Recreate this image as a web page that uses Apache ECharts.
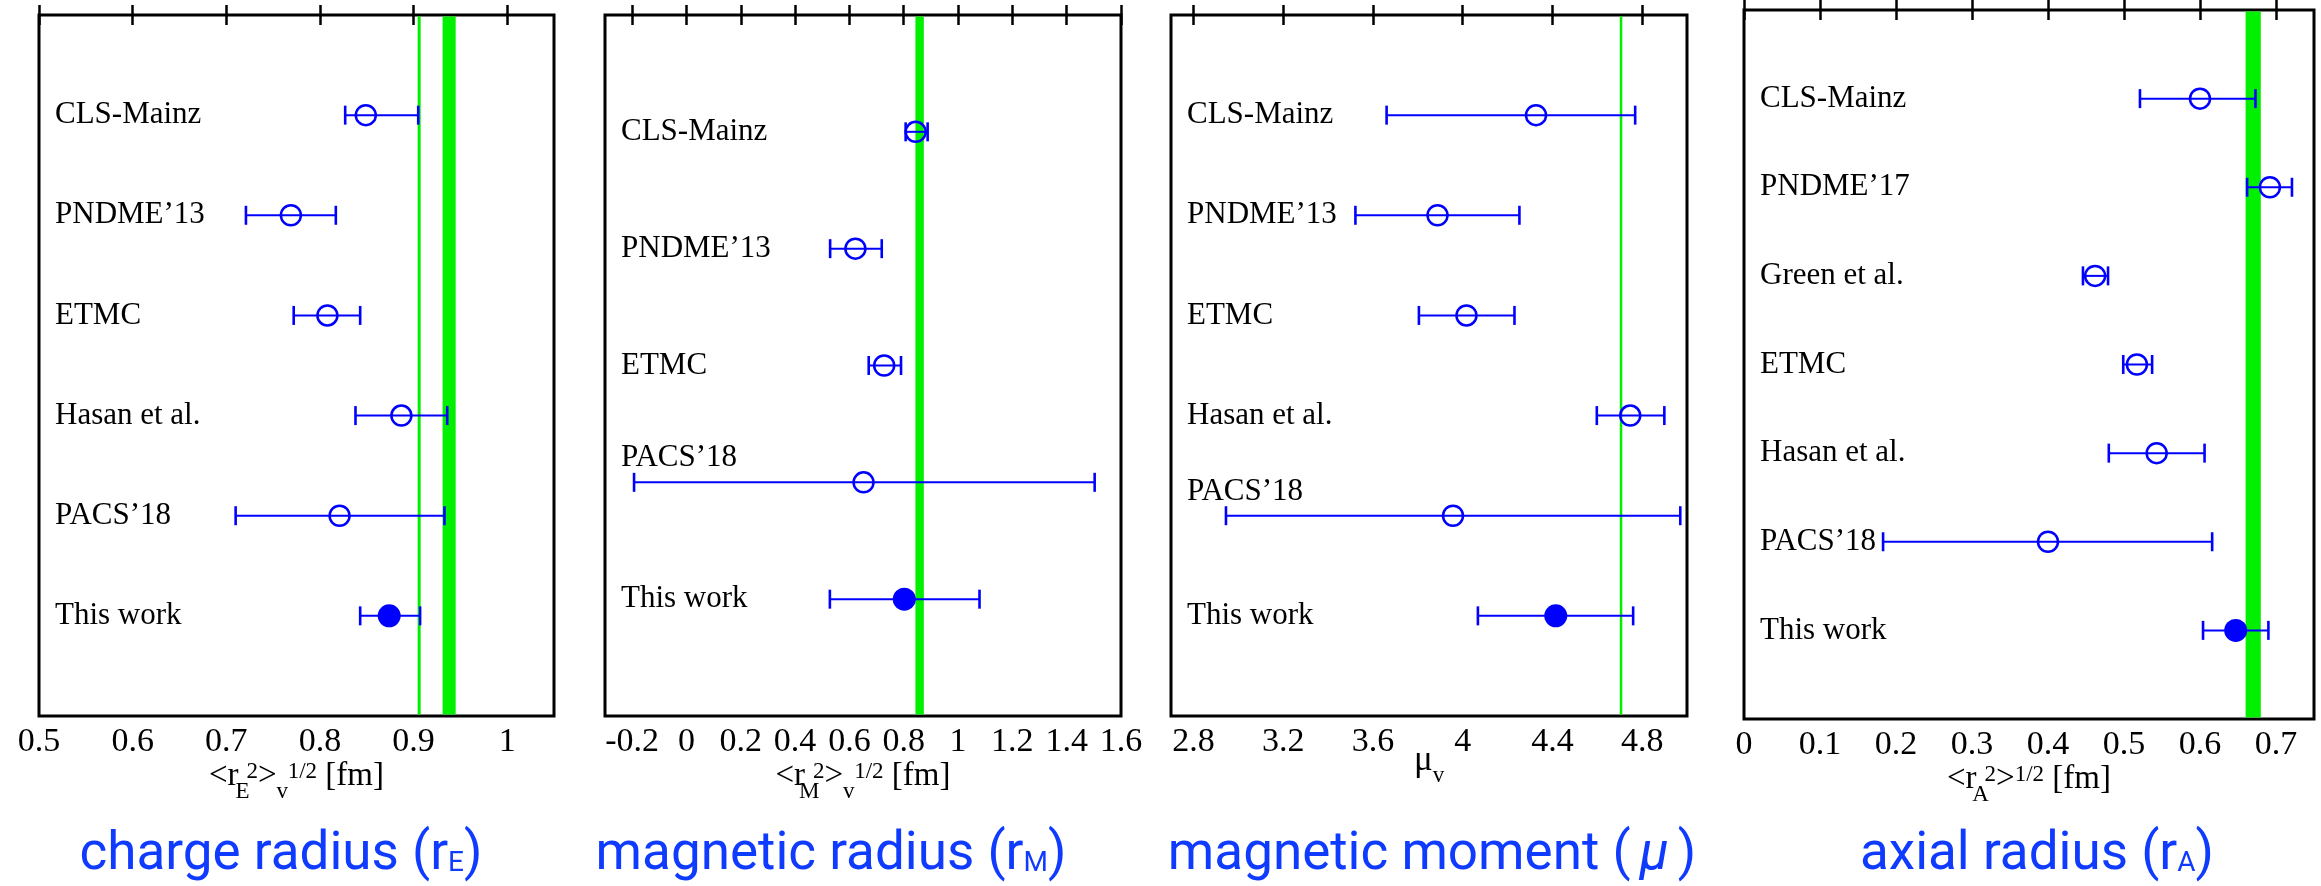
<!DOCTYPE html>
<html>
<head>
<meta charset="utf-8">
<script src="https://cdn.jsdelivr.net/npm/echarts@6/dist/echarts.min.js"></script>
<style>
  html, body { margin: 0; padding: 0; background: #ffffff; }
  #chart { width: 2321px; height: 886px; }
</style>
</head>
<body>
<div id="chart"></div>
<script>
// ---------- isovector charge radius <r_E^2>^{1/2} [fm] ----------
const chargeNames = ['CLS-Mainz', 'PNDME\u201913', 'ETMC', 'Hasan et al.', 'PACS\u201918', 'This work'];
const chargeVal   = [0.849, 0.769, 0.808, 0.887, 0.821, 0.874];
const chargeLo    = [0.827, 0.721, 0.772, 0.838, 0.710, 0.843];
const chargeHi    = [0.905, 0.817, 0.843, 0.936, 0.933, 0.907];
const chargeTicks = [0.5, 0.6, 0.7, 0.8, 0.9, 1];
const chargeRange = [0.5, 1.05];
const chargeRefLine = [0.906];
const chargeRefBand = [0.931, 0.945];

// ---------- isovector magnetic radius <r_M^2>^{1/2} [fm] ----------
const magNames = ['CLS-Mainz', 'PNDME\u201913', 'ETMC', 'PACS\u201918', 'This work'];
const magVal   = [0.844, 0.622, 0.728, 0.652, 0.802];
const magLo    = [0.807, 0.529, 0.671, -0.193, 0.528];
const magHi    = [0.888, 0.719, 0.790, 1.503, 1.079];
const magTicks = [-0.2, 0, 0.2, 0.4, 0.6, 0.8, 1, 1.2, 1.4, 1.6];
const magRange = [-0.3, 1.6];
const magRefBand = [0.843, 0.874];

// ---------- isovector magnetic moment mu_v ----------
const momNames = ['CLS-Mainz', 'PNDME\u201913', 'ETMC', 'Hasan et al.', 'PACS\u201918', 'This work'];
const momVal   = [4.327, 3.888, 4.017, 4.747, 3.957, 4.415];
const momLo    = [3.661, 3.522, 3.805, 4.598, 2.945, 4.068];
const momHi    = [4.769, 4.253, 4.231, 4.899, 4.970, 4.760];
const momTicks = [2.8, 3.2, 3.6, 4, 4.4, 4.8];
const momRange = [2.7, 5.0];
const momRefLine = [4.706];

// ---------- axial radius <r_A^2>^{1/2} [fm] ----------
const axNames = ['CLS-Mainz', 'PNDME\u201917', 'Green et al.', 'ETMC', 'Hasan et al.', 'PACS\u201918', 'This work'];
const axVal   = [0.600, 0.692, 0.462, 0.517, 0.543, 0.400, 0.647];
const axLo    = [0.521, 0.662, 0.446, 0.499, 0.480, 0.183, 0.604];
const axHi    = [0.673, 0.721, 0.479, 0.537, 0.606, 0.616, 0.690];
const axTicks = [0, 0.1, 0.2, 0.3, 0.4, 0.5, 0.6, 0.7];
const axRange = [0, 0.75];
const axRefBand = [0.66, 0.68];

// ---------- styling ----------
const SERIF = '"Liberation Serif", "Times New Roman", serif';
const SANS = 'Roboto, "Noto Sans", sans-serif';
const MARK_BLUE = '#0000ff';
const TITLE_BLUE = '#0f3bff';
const REF_GREEN = '#00f000';
const OWN_RESULT = 'This work';

// rich styles for the axis names (sub- and superscripts)
const axisNameRich = {
  m:   { fontFamily: SERIF, fontSize: 33, color: '#000' },
  sb:  { fontFamily: SERIF, fontSize: 23, color: '#000', padding: [30, 0, 0, 0], width: 8 },
  sbv: { fontFamily: SERIF, fontSize: 23, color: '#000', padding: [30, 0, 0, 0], width: 11 },
  sp:  { fontFamily: SERIF, fontSize: 23, color: '#000', padding: [0, 0, 10, 0] },
  mu:  { fontFamily: SERIF, fontSize: 35, color: '#000' }
};
const titleRich = {
  m:  { fontFamily: SANS, fontSize: 53, fontWeight: 'normal', color: TITLE_BLUE },
  s:  { fontFamily: SANS, fontSize: 28, fontWeight: 'normal', color: TITLE_BLUE, padding: [17, 0, 0, 0] },
  mu: { fontFamily: SANS, fontSize: 53, fontWeight: 'normal', fontStyle: 'italic', color: TITLE_BLUE, padding: [0, 9, 0, 9] }
};

const panels = [
  {
    names: chargeNames, val: chargeVal, lo: chargeLo, hi: chargeHi,
    ticks: chargeTicks, range: chargeRange,
    refs: [{ lo: chargeRefLine[0], hi: chargeRefLine[0], w: 3 }, { lo: chargeRefBand[0], hi: chargeRefBand[1] }],
    axisName: '{m|<r}{sb|E}{sp|2}{m|>}{sbv|v}{sp|1/2}{m| [fm]}',
    title: '{m|charge radius (r}{s|E}{m|)}',
    box: { left: 39, top: 15, width: 515, height: 701 }, nameGap: 34, titleX: 281, lifted: []
  },
  {
    names: magNames, val: magVal, lo: magLo, hi: magHi,
    ticks: magTicks, range: magRange,
    refs: [{ lo: magRefBand[0], hi: magRefBand[1] }],
    axisName: '{m|<r}{sb|M}{sp|2}{m|>}{sbv|v}{sp|1/2}{m| [fm]}',
    title: '{m|magnetic radius (r}{s|M}{m|)}',
    box: { left: 605, top: 15, width: 516, height: 701 }, nameGap: 34, titleX: 831, lifted: ['PACS\u201918']
  },
  {
    names: momNames, val: momVal, lo: momLo, hi: momHi,
    ticks: momTicks, range: momRange,
    refs: [{ lo: momRefLine[0], hi: momRefLine[0], w: 2.5 }],
    axisName: '{mu|\u03bc}{sbv|v}',
    title: '{m|magnetic moment (}{mu|\u03bc}{m|)}',
    box: { left: 1171, top: 15, width: 516, height: 701 }, nameGap: 18, titleX: 1432, lifted: ['PACS\u201918']
  },
  {
    names: axNames, val: axVal, lo: axLo, hi: axHi,
    ticks: axTicks, range: axRange,
    refs: [{ lo: axRefBand[0], hi: axRefBand[1] }],
    axisName: '{m|<r}{sb|A}{sp|2}{m|>}{sp|1/2}{m| [fm]}',
    title: '{m|axial radius (r}{s|A}{m|)}',
    box: { left: 1744, top: 10, width: 570, height: 709 }, nameGap: 34, titleX: 2037, lifted: []
  }
];

// error bar: horizontal line with end caps
function renderErrorBar(params, api) {
  const y = api.value(1);
  const a = api.coord([api.value(2), y]);
  const b = api.coord([api.value(3), y]);
  const cap = 9.5;
  const lineStyle = { stroke: MARK_BLUE, lineWidth: 2 };
  const capStyle = { stroke: MARK_BLUE, lineWidth: 2.6 };
  return {
    type: 'group',
    children: [
      { type: 'line', shape: { x1: a[0], y1: a[1], x2: b[0], y2: b[1] }, style: lineStyle },
      { type: 'line', shape: { x1: a[0], y1: a[1] - cap, x2: a[0], y2: a[1] + cap }, style: capStyle },
      { type: 'line', shape: { x1: b[0], y1: b[1] - cap, x2: b[0], y2: b[1] + cap }, style: capStyle }
    ]
  };
}

// reference value: thin vertical line or shaded vertical band across the panel
function makeRefRenderer(nSlots) {
  return function (params, api) {
    const lo = api.value(0), hi = api.value(1), w = api.value(2);
    const p1 = api.coord([lo, 0]);
    const p2 = api.coord([hi, nSlots]);
    const yTop = Math.min(p1[1], p2[1]) + 1.5;
    const yBot = Math.max(p1[1], p2[1]) - 1.5;
    if (hi === lo) {
      return {
        type: 'line',
        shape: { x1: p1[0], y1: yTop, x2: p1[0], y2: yBot },
        style: { stroke: REF_GREEN, lineWidth: w }
      };
    }
    return {
      type: 'rect',
      shape: { x: p1[0], y: yTop, width: p2[0] - p1[0], height: yBot - yTop },
      style: { fill: REF_GREEN }
    };
  };
}

const grid = [], xAxis = [], yAxis = [], series = [], title = [];

panels.forEach((p, i) => {
  const nSlots = p.names.length + 1;
  grid.push(Object.assign({
    show: true, borderColor: '#000', borderWidth: 3, backgroundColor: 'transparent',
    containLabel: false, outerBoundsMode: 'none'
  }, p.box));

  // bottom axis with labels and inward ticks
  xAxis.push({
    type: 'value', gridIndex: i, position: 'bottom', min: p.range[0], max: p.range[1],
    axisLine: { show: false },
    axisTick: { show: true, inside: true, length: 10, customValues: p.ticks, lineStyle: { color: '#000', width: 2.5 } },
    axisLabel: {
      show: true, customValues: p.ticks, margin: 9,
      fontFamily: SERIF, fontSize: 34, color: '#000',
      formatter: v => String(v)
    },
    splitLine: { show: false },
    name: p.axisName, nameLocation: 'middle', nameGap: p.nameGap, nameMoveOverlap: false,
    nameTextStyle: { rich: axisNameRich, verticalAlign: 'top' }
  });
  // top axis: inward ticks only
  xAxis.push({
    type: 'value', gridIndex: i, position: 'top', min: p.range[0], max: p.range[1],
    axisLine: { show: false },
    axisTick: { show: true, inside: true, length: 10, customValues: p.ticks, lineStyle: { color: '#000', width: 2.5 } },
    axisLabel: { show: false },
    splitLine: { show: false }
  });

  // slots 1..n from top to bottom, names written inside the frame
  yAxis.push({
    type: 'value', gridIndex: i, min: 0, max: nSlots, interval: 1, inverse: true,
    axisLine: { show: false }, axisTick: { show: false }, splitLine: { show: false },
    axisLabel: {
      show: true, inside: true, margin: 16,
      fontFamily: SERIF, fontSize: 31, color: '#000',
      formatter: v => {
        const name = p.names[v - 1];
        if (!name) return '';
        return p.lifted.indexOf(name) >= 0 ? '{up|' + name + '}' : name;
      },
      rich: { up: { fontFamily: SERIF, fontSize: 31, color: '#000', padding: [0, 0, 48, 0] } }
    }
  });

  series.push({
    type: 'custom', xAxisIndex: 2 * i, yAxisIndex: i, z: 1, silent: true,
    renderItem: makeRefRenderer(nSlots),
    encode: { x: [0, 1] },
    data: p.refs.map(r => [r.lo, r.hi, r.w || 0])
  });
  series.push({
    type: 'custom', xAxisIndex: 2 * i, yAxisIndex: i, z: 3, silent: true,
    renderItem: renderErrorBar,
    encode: { x: [0, 2, 3], y: 1 },
    data: p.names.map((n, k) => [p.val[k], k + 1, p.lo[k], p.hi[k]])
  });
  series.push({
    type: 'scatter', xAxisIndex: 2 * i, yAxisIndex: i, z: 4, silent: true,
    data: p.names.map((n, k) => {
      const own = n === OWN_RESULT;
      return {
        name: n, value: [p.val[k], k + 1],
        symbolSize: own ? 23 : 20,
        itemStyle: own
          ? { color: MARK_BLUE, borderWidth: 0, opacity: 1 }
          : { color: 'rgba(0,0,0,0)', borderColor: MARK_BLUE, borderWidth: 2.5, opacity: 1 }
      };
    })
  });

  title.push({
    text: p.title, left: p.titleX, top: 829, textAlign: 'center', padding: 0,
    textStyle: { rich: titleRich, fontWeight: 'normal' }
  });
});

const chart = echarts.init(document.getElementById('chart'), null, { renderer: 'canvas' });
chart.setOption({
  animation: false,
  backgroundColor: '#ffffff',
  title, grid, xAxis, yAxis, series
});
</script>
</body>
</html>
